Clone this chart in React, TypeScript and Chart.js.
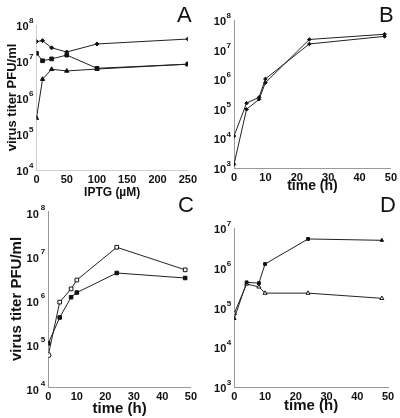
import React, { useEffect, useRef } from 'react';
import { Chart, registerables } from 'chart.js';

Chart.register(...registerables);

const FONT = '"Liberation Sans", Arial, Helvetica, sans-serif';

// ---------- Panel A ----------
const A_X = [0, 10, 25, 50, 100, 250];
const A_DIAMOND = [3.5e7, 3.7e7, 2.35e7, 1.8e7, 3.0e7, 4.1e7];
const A_SQUARE = [1.66e7, 1.03e7, 1.16e7, 1.48e7, 6.4e6, 8.3e6];
const A_TRIANGLE = [2.7e5, 3.2e6, 6.0e6, 5.4e6, 6.1e6, 8.3e6];
const A_YEXP = [4, 5, 6, 7, 8];

// ---------- Panel B ----------
const B_X = [0, 4, 8, 10, 24, 48];
const B_S1 = [1.2e4, 1.55e5, 2.45e5, 1.02e6, 1.55e7, 2.8e7];
const B_S2 = [1.33e3, 9.6e4, 2.1e5, 7.6e5, 2.2e7, 3.3e7];
const B_YEXP = [3, 4, 5, 6, 7, 8];

// ---------- Panel C ----------
const C_X = [0, 4, 8, 10, 24, 48];
const C_OPEN = [5.3e4, 8.5e5, 1.7e6, 2.7e6, 1.5e7, 4.6e6];
const C_FILLED = [9.8e4, 3.8e5, 1.1e6, 1.4e6, 3.9e6, 3.0e6];
const C_YEXP = [4, 5, 6, 7, 8];

// ---------- Panel D ----------
const D_X = [0, 4, 8, 10, 24, 48];
const D_UPPER = [5.3e4, 4.3e5, 4.1e5, 1.24e6, 5.3e6, 4.9e6];
const D_LOWER = [7.1e4, 3.9e5, 3.3e5, 2.3e5, 2.3e5, 1.7e5];
const D_YEXP = [3, 4, 5, 6, 7];

const Y_TITLE = 'virus titer PFU/ml';
const X_TITLE_A = 'IPTG (\u00B5M)';
const X_TITLE_T = 'time (h)';

const expLabelPlugin = {
  id: 'expLabels',
  afterDraw(chart: any, _args: any, opts: any) {
    const y = chart.scales.y;
    const ctx = chart.ctx;
    const right = y.right - (opts.gap ?? 3);
    ctx.save();
    ctx.fillStyle = '#111';
    ctx.textBaseline = 'middle';
    for (const t of y.ticks) {
      const py = y.getPixelForValue(t.value);
      const e = String(Math.round(Math.log10(t.value)));
      ctx.font = `bold ${opts.supSize ?? 8}px ${FONT}`;
      const we = ctx.measureText(e).width;
      ctx.textAlign = 'left';
      ctx.fillText(e, right - we, py + (opts.supDy ?? -3));
      ctx.font = `bold ${opts.baseSize ?? 11}px ${FONT}`;
      ctx.textAlign = 'right';
      ctx.fillText('10', right - we - (opts.supGap ?? 0.5), py + (opts.baseDy ?? 3));
    }
    ctx.restore();
  },
};

type DS = {
  xs: number[];
  ys: number[];
  style: any;
  radius: number;
  fill: string;
};

type Spec = {
  left: number;
  top: number;
  width: number;
  height: number;
  padTop: number;
  padRight: number;
  yWidth: number;
  xHeight: number;
  xMax: number;
  xStep: number;
  yMin: number;
  yMax: number;
  yExp: number[];
  xTitle: string;
  xTitleSize: number;
  xTitlePad: number;
  yTitle?: string;
  yTitleSize?: number;
  yTitlePad?: number;
  axisColor: string;
  datasets: DS[];
  supDy: number;
  baseDy: number;
  supGap: number;
};

function Panel({ spec }: { spec: Spec }) {
  const ref = useRef<HTMLCanvasElement | null>(null);
  useEffect(() => {
    if (!ref.current) return;
    const chart = new Chart(ref.current, {
      type: 'line',
      data: {
        datasets: spec.datasets.map((d, i) => ({
          label: 's' + i,
          data: d.xs.map((x, j) => ({ x, y: d.ys[j] })),
          borderColor: '#222',
          borderWidth: 1,
          pointStyle: d.style,
          pointRadius: d.radius,
          pointBackgroundColor: d.fill,
          pointBorderColor: '#111',
          pointBorderWidth: 1,
          tension: 0,
          fill: false,
        })),
      },
      options: {
        animation: false,
        responsive: false,
        maintainAspectRatio: false,
        layout: { padding: { left: 0, top: spec.padTop, right: spec.padRight, bottom: 0 } },
        plugins: {
          legend: { display: false },
          tooltip: { enabled: false },
          expLabels: { supDy: spec.supDy, baseDy: spec.baseDy, supGap: spec.supGap, gap: 3 },
        } as any,
        scales: {
          x: {
            type: 'linear',
            min: 0,
            max: spec.xMax,
            grid: { display: false, drawTicks: false },
            border: { display: true, color: spec.axisColor, width: 1 },
            ticks: {
              stepSize: spec.xStep,
              font: { size: 11, weight: 'bold', family: FONT },
              color: '#111',
              padding: 3,
              maxRotation: 0,
              autoSkip: false,
            },
            title: {
              display: true,
              text: spec.xTitle,
              font: { size: spec.xTitleSize, weight: 'bold', family: FONT },
              color: '#111',
              padding: { top: 0, bottom: spec.xTitlePad },
            },
            afterFit: (s: any) => {
              s.height = spec.xHeight;
            },
          },
          y: {
            type: 'logarithmic',
            min: spec.yMin,
            max: spec.yMax,
            grid: { display: false, drawTicks: false },
            border: { display: true, color: spec.axisColor, width: 1 },
            ticks: { display: false },
            afterBuildTicks: (s: any) => {
              s.ticks = spec.yExp.map((e) => ({ value: Math.pow(10, e) }));
            },
            title: {
              display: !!spec.yTitle,
              text: spec.yTitle || '',
              font: { size: spec.yTitleSize || 12, weight: 'bold', family: FONT },
              color: '#111',
              padding: { top: spec.yTitlePad ?? 4, bottom: 0 },
            },
            afterFit: (s: any) => {
              s.width = spec.yWidth;
            },
          },
        } as any,
      },
      plugins: [expLabelPlugin],
    });
    return () => chart.destroy();
  }, [spec]);
  return (
    <canvas
      ref={ref}
      width={spec.width}
      height={spec.height}
      style={{ position: 'absolute', left: spec.left, top: spec.top, width: spec.width, height: spec.height }}
    />
  );
}

const SPECS: Spec[] = [
  {
    left: 0, top: 0, width: 200, height: 200,
    padTop: 25, padRight: 11, yWidth: 36.5, xHeight: 30,
    xMax: 250, xStep: 50, yMin: 1e4, yMax: 1e8, yExp: A_YEXP,
    xTitle: X_TITLE_A, xTitleSize: 12, xTitlePad: 0, yTitle: Y_TITLE, yTitleSize: 13, yTitlePad: 5,
    axisColor: '#cfcfcf', supDy: -4, baseDy: 2, supGap: 0.5,
    datasets: [
      { xs: A_X, ys: A_DIAMOND, style: 'rectRot', radius: 2, fill: '#111' },
      { xs: A_X, ys: A_SQUARE, style: 'rect', radius: 2.6, fill: '#111' },
      { xs: A_X, ys: A_TRIANGLE, style: 'triangle', radius: 2.5, fill: '#111' },
    ],
  },
  {
    left: 200, top: 0, width: 200, height: 197,
    padTop: 20, padRight: 8, yWidth: 34, xHeight: 29,
    xMax: 50, xStep: 10, yMin: 1e3, yMax: 1e8, yExp: B_YEXP,
    xTitle: X_TITLE_T, xTitleSize: 14, xTitlePad: 2,
    axisColor: '#999999', supDy: -4, baseDy: 2, supGap: 0.5,
    datasets: [
      { xs: B_X, ys: B_S1, style: 'rectRot', radius: 1.8, fill: '#111' },
      { xs: B_X, ys: B_S2, style: 'rectRot', radius: 1.8, fill: '#111' },
    ],
  },
  {
    left: 0, top: 200, width: 200, height: 218,
    padTop: 11, padRight: 5, yWidth: 48.3, xHeight: 31,
    xMax: 50, xStep: 10, yMin: 1e4, yMax: 1e8, yExp: C_YEXP,
    xTitle: X_TITLE_T, xTitleSize: 15, xTitlePad: 0, yTitle: Y_TITLE, yTitleSize: 15, yTitlePad: 8,
    axisColor: '#999999', supDy: -3, baseDy: 4, supGap: 2,
    datasets: [
      { xs: C_X, ys: C_OPEN, style: ['circle', 'rect', 'rect', 'rect', 'rect', 'rect'], radius: 2.6, fill: '#ffffff' },
      { xs: C_X, ys: C_FILLED, style: 'rect', radius: 2.5, fill: '#111' },
    ],
  },
  {
    left: 200, top: 200, width: 200, height: 218,
    padTop: 28, padRight: 12, yWidth: 34.3, xHeight: 31,
    xMax: 50, xStep: 10, yMin: 1e3, yMax: 1e7, yExp: D_YEXP,
    xTitle: X_TITLE_T, xTitleSize: 15, xTitlePad: 3,
    axisColor: '#999999', supDy: -4, baseDy: 2, supGap: 0.5,
    datasets: [
      { xs: D_X, ys: D_UPPER, style: ['triangle', 'rect', 'rect', 'rect', 'rect', 'triangle'], radius: 2, fill: '#111' },
      { xs: D_X, ys: D_LOWER, style: 'triangle', radius: 2.3, fill: '#ffffff' },
    ],
  },
];

const LETTERS = [
  { text: 'A', left: 177, top: 4 },
  { text: 'B', left: 379, top: 4 },
  { text: 'C', left: 178, top: 194 },
  { text: 'D', left: 380, top: 194 },
];

export default function App() {
  return (
    <div style={{ position: 'fixed', left: 0, top: 0, width: 400, height: 418, background: '#fff', overflow: 'hidden' }}>
      {SPECS.map((s, i) => (
        <Panel key={i} spec={s} />
      ))}
      {LETTERS.map((l) => (
        <div
          key={l.text}
          style={{
            position: 'absolute',
            left: l.left,
            top: l.top,
            fontFamily: FONT,
            fontSize: 22,
            lineHeight: '22px',
            color: '#111',
          }}
        >
          {l.text}
        </div>
      ))}
    </div>
  );
}
